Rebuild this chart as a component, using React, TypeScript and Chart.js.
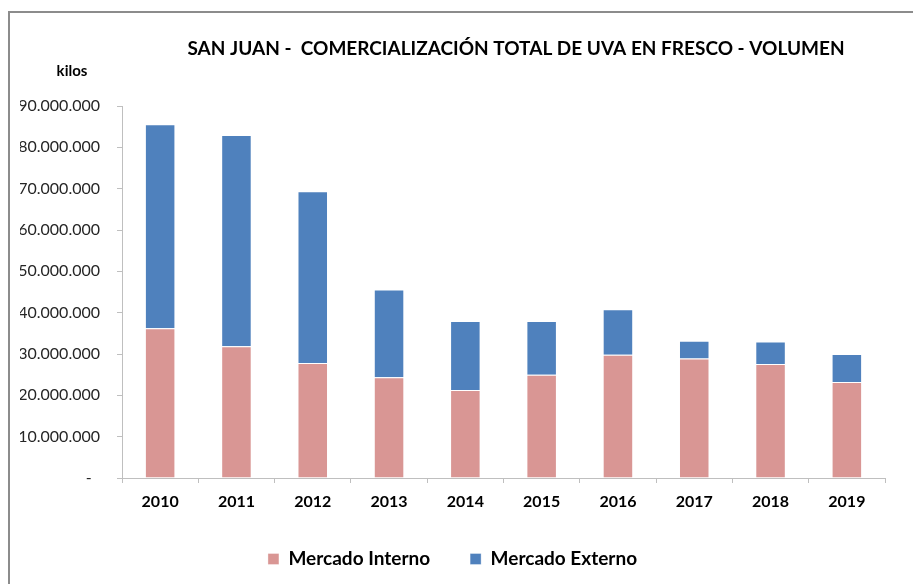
import React, { useEffect, useRef } from "react";
import { Chart, registerables } from "chart.js";

Chart.register(...registerables);

const years = ["2010", "2011", "2012", "2013", "2014", "2015", "2016", "2017", "2018", "2019"];
const mercadoInterno = [36200000, 31900000, 27800000, 24400000, 21300000, 25000000, 29800000, 28900000, 27600000, 23200000];
const mercadoExterno = [49400000, 51100000, 41600000, 21200000, 16700000, 13000000, 11000000, 4300000, 5400000, 6800000];
const titleText = "SAN JUAN -  COMERCIALIZACIÓN TOTAL DE UVA EN FRESCO - VOLUMEN";
const unitText = "kilos";

const FONT = "Lato, 'Open Sans', sans-serif";

const formatTick = (v: number) => {
  if (v === 0) return "-  ";
  return Math.round(v).toString().replace(/\B(?=(\d{3})+(?!\d))/g, ".");
};

const textPlugin = {
  id: "textPlugin",
  afterDraw(chart: any) {
    const ctx = chart.ctx;
    const area = chart.chartArea;
    ctx.save();
    ctx.fillStyle = "#000000";
    ctx.textAlign = "center";
    ctx.textBaseline = "middle";
    ctx.font = `bold 19px ${FONT}`;
    ctx.fillText(titleText, area.left + 394, area.top - 57);
    ctx.font = `bold 15px ${FONT}`;
    ctx.fillText(unitText, area.left - 50, area.top - 35);
    ctx.restore();
  },
};

export default function App() {
  const ref = useRef<HTMLCanvasElement | null>(null);

  useEffect(() => {
    if (!ref.current) return;
    const chart = new Chart(ref.current, {
      type: "bar",
      data: {
        labels: years,
        datasets: [
          {
            label: "Mercado Interno",
            data: mercadoInterno,
            backgroundColor: "#D99694",
            borderColor: "rgba(255,255,255,0.35)",
            borderWidth: 1,
            barPercentage: 0.4,
            categoryPercentage: 1,
          },
          {
            label: "Mercado Externo",
            data: mercadoExterno,
            backgroundColor: "#4F81BD",
            borderColor: "rgba(255,255,255,0.35)",
            borderWidth: 1,
            barPercentage: 0.4,
            categoryPercentage: 1,
          },
        ],
      },
      options: {
        animation: false,
        responsive: false,
        maintainAspectRatio: false,
        layout: { padding: { top: 106, right: 28, bottom: 5.5, left: 20 } },
        plugins: {
          tooltip: { enabled: false },
          title: { display: false },
          legend: {
            display: true,
            position: "bottom",
            labels: {
              boxWidth: 11,
              boxHeight: 11,
              padding: 40,
              color: "#000000",
              font: { family: FONT, size: 19, weight: "bold" },
            },
          },
        },
        scales: {
          x: {
            stacked: true,
            grid: {
              display: true,
              drawOnChartArea: false,
              drawTicks: true,
              tickLength: 5,
              color: "#BFBFBF",
              offset: true,
            },
            border: { display: true, color: "#BFBFBF", width: 1 },
            ticks: {
              color: "#000000",
              padding: 9,
              font: { family: FONT, size: 16, weight: "bold" },
              maxRotation: 0,
            },
            afterFit: (scale: any) => {
              scale.height = 31.5;
            },
          },
          y: {
            stacked: true,
            min: 0,
            max: 90000000,
            grid: {
              display: true,
              drawOnChartArea: false,
              drawTicks: true,
              tickLength: 5,
              color: "#BFBFBF",
            },
            border: { display: true, color: "#BFBFBF", width: 1 },
            ticks: {
              stepSize: 10000000,
              color: "#262626",
              padding: 17,
              font: { family: FONT, size: 16 },
              callback: (v: any) => formatTick(Number(v)),
            },
            afterFit: (scale: any) => {
              scale.width = 102;
            },
          },
        },
      },
      plugins: [textPlugin],
    });
    return () => chart.destroy();
  }, []);

  return (
    <div style={{ position: "fixed", left: 0, top: 0, width: 913, height: 584, background: "#ffffff", overflow: "hidden" }}>
      <div
        style={{
          position: "absolute",
          left: 8,
          top: 11,
          width: 920,
          height: 600,
          borderLeft: "2px solid #8C8C8C",
          borderTop: "2px solid #8C8C8C",
          boxSizing: "border-box",
        }}
      />
      <canvas ref={ref} width={913} height={584} style={{ position: "absolute", left: 0, top: 0, width: 913, height: 584 }} />
    </div>
  );
}
